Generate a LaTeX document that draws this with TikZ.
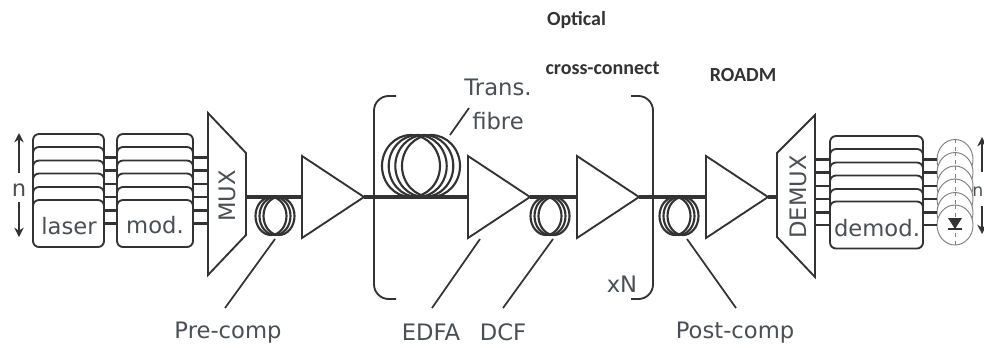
\documentclass[tikz,border=0pt]{standalone}
\usepackage{fontspec}
\setmainfont{DejaVu Sans}
\newfontfamily\notefont{Carlito}
\usetikzlibrary{shapes.geometric,arrows.meta}
\definecolor{ink}{HTML}{333333}
\definecolor{labelink}{HTML}{4A4F55}
\def\px{0.75pt}
\def\fibrey{197}
\tikzset{
    stackbox/.style={draw=ink,fill=white,line width=1.4pt,rounded corners=4.5pt,minimum height=47*\px,inner sep=0pt},
    fibreline/.style={draw=ink,line width=2.8pt},
    link/.style={draw=ink,line width=1.6pt},
    wrap/.style={draw=ink,line width=1.4pt},
    coilturn/.style={draw=ink,line width=1.6pt},
    leader/.style={draw=ink,line width=1.3pt},
    lbl/.style={text=labelink,font=\fontsize{17}{19}\selectfont,inner sep=0pt},
    smalllbl/.style={text=labelink,font=\fontsize{13}{15}\selectfont,inner sep=0pt},
    note/.style={text=ink,font=\notefont\bfseries\fontsize{15}{17}\selectfont,inner sep=0pt},
    updown/.style={draw=ink,line width=2pt,-{Stealth[length=7pt,width=7pt]}},
    pdiode/.style={draw=gray,fill=white,ellipse,line width=0.7pt,minimum width=36*\px,minimum height=40*\px,inner sep=0pt},
}
\newcommand{\amp}[2]{
    \draw [wrap,fill=white,line join=miter] (#2,156) -- (#2+62,\fibrey) -- (#2,238) -- cycle;
    \coordinate (#1in) at (#2,\fibrey);
    \coordinate (#1out) at (#2+62,\fibrey);
}
\newcommand{\coil}[2]{
    \foreach \dx in {-4,0,4}
        \draw [coilturn] (#2+\dx,216) ellipse (15.5 and 19);
}
\begin{document}
\begin{tikzpicture}[x=\px,y=-\px]
    \useasboundingbox (0,0) rectangle (984,347);
    % transmitter side
    \foreach \i/\yc in {1/157.5,2/170.5,3/184,4/197,5/210.5,6/223.5}
        \node [stackbox,minimum width=71*\px] (laser\i) at (68.5,\yc) {};
    \node [lbl] (lasertext) at (69,226) {laser};
    \foreach \i/\yc in {1/157.5,2/170.5,3/184,4/197,5/210.5,6/223.5}
        \node [stackbox,minimum width=76*\px] (mod\i) at (155,\yc) {};
    \node [lbl] (modtext) at (155,225) {mod.};
    \draw [wrap] (208,113) -- (246,153) -- (246,235) -- (208,275) -- cycle;
    \node [lbl,rotate=90] (mux) at (227,196) {MUX};
    \coordinate (muxin) at (208,197);
    \coordinate (muxout) at (246,\fibrey);
    \foreach \i in {1,...,6} {
        \draw [link] (laser\i.east) -- (mod\i.west);
        \draw [link] (mod\i.east) -- (mod\i.east -| muxin);
    }
    \node [lbl] (nleft) at (19,190) {n};
    \coordinate (nlefttop) at (19,173);
    \coordinate (nleftbot) at (19,202);
    \coordinate (nlefttip) at (19,133);
    \coordinate (nleftend) at (19,237);
    \draw [updown] (nlefttop) -- (nlefttip);
    \draw [updown] (nleftbot) -- (nleftend);

    % span
    \amp{ampa}{302}
    \amp{ampb}{468}
    \amp{ampc}{577}
    \amp{ampd}{706}
    \coil{precoil}{275}
    \coil{dcfcoil}{550}
    \coil{postcoil}{679}
    \foreach \dx in {-10,-3.3,3.3,10}
        \draw [coilturn] (421+\dx,166) ellipse (29 and 31);
    \draw [fibreline] (muxout) -- (ampain);
    \draw [fibreline] (ampaout) -- (ampbin);
    \draw [fibreline] (ampbout) -- (ampcin);
    \draw [fibreline] (ampcout) -- (ampdin);
    \draw [wrap,rounded corners=11pt] (396,96) -| (374,299) -- (396,299);
    \draw [wrap,rounded corners=11pt] (631,96) -| (653,299) -- (631,299);

    % receiver side
    \draw [wrap] (777,153) -- (815,115) -- (815,277) -- (777,237) -- cycle;
    \node [lbl,rotate=90] (demux) at (798,197) {DEMUX};
    \coordinate (demuxin) at (777,\fibrey);
    \coordinate (demuxout) at (815,197);
    \draw [fibreline] (ampdout) -- (demuxin);
    \foreach \i/\yc in {1/159.5,2/172.5,3/186,4/199,5/212.5,6/225}
        \node [stackbox,minimum width=93*\px] (demod\i) at (876.5,\yc) {};
    \node [lbl] (demodtext) at (877,228) {demod.};
    \foreach \i/\yc in {1/159.5,2/172.5,3/186,4/199,5/212.5,6/225} {
        \node [pdiode] (pd\i) at (955,\yc) {};
        \draw [draw=gray,dashed,line width=0.7pt] (pd\i.north) -- ++(0,18);
    }
    \draw [draw=gray,dashed,line width=0.7pt] (pd6.center) -- (pd6.south);
    \fill [ink] (948,218) -- (962,218) -- (955,229) -- cycle;
    \draw [ink,line width=1.2pt] (948,229) -- (962,229);
    \foreach \i in {1,...,6} {
        \draw [link] (demod\i.west -| demuxout) -- (demod\i.west);
        \draw [link] (demod\i.east) -- (pd\i.west);
    }
    \node [smalllbl,anchor=east] (nright) at (983.5,192) {n};
    \coordinate (nrighttop) at (982,172);
    \coordinate (nrightbot) at (982,206);
    \coordinate (nrighttip) at (982,137);
    \coordinate (nrightend) at (982,234);
    \draw [updown] (nrighttop) -- (nrighttip);
    \draw [updown] (nrightbot) -- (nrightend);

    % labels
    \node [lbl] (precomp) at (228,332.5) {Pre-comp};
    \node [lbl] (edfa) at (431,332.5) {EDFA};
    \node [lbl] (dcf) at (503,332.5) {DCF};
    \node [lbl] (postcomp) at (735,332.5) {Post-comp};
    \node [lbl] (trans) at (498,87) {Trans.};
    \node [lbl] (fibrelabel) at (498,121) {fibre};
    \node [lbl] (xn) at (622,284) {xN};
    \node [note] (optical) at (576.5,20) {Optical};
    \node [note] (crossconnect) at (602.5,68) {cross-connect};
    \node [note] (roadm) at (743,75) {ROADM};
    \coordinate (prestart) at (275,239);
    \coordinate (preend) at (225,308);
    \coordinate (edfastart) at (480,239);
    \coordinate (edfaend) at (432,308);
    \coordinate (dcfstart) at (553,239);
    \coordinate (dcfend) at (503,308);
    \coordinate (poststart) at (687,239);
    \coordinate (postend) at (736,308);
    \coordinate (transstart) at (450,135);
    \coordinate (transend) at (469,108);
    \draw [leader] (prestart) -- (preend);
    \draw [leader] (edfastart) -- (edfaend);
    \draw [leader] (dcfstart) -- (dcfend);
    \draw [leader] (poststart) -- (postend);
    \draw [leader] (transstart) -- (transend);
\end{tikzpicture}
\end{document}
